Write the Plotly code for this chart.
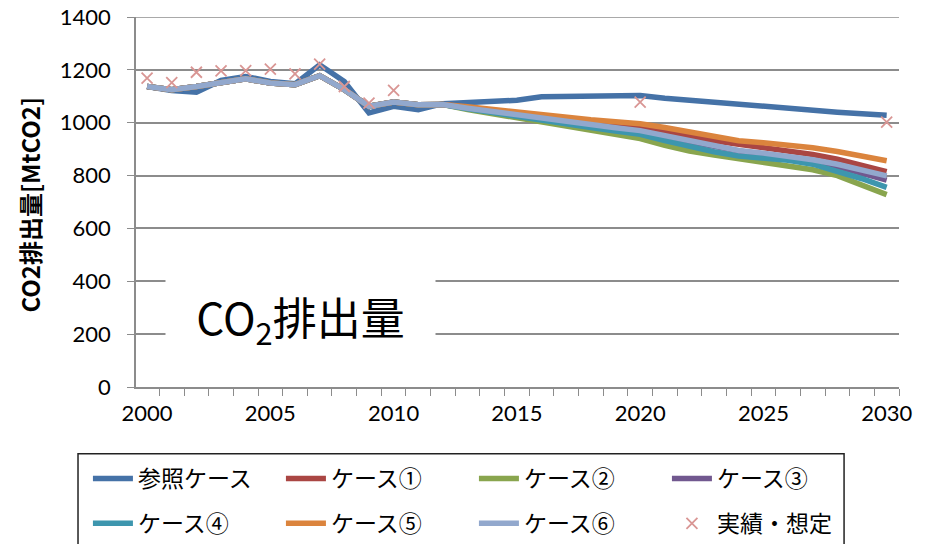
import plotly.graph_objects as go

years = list(range(2000, 2031))

# 参照ケース
ref = [1137, 1122, 1115, 1160, 1175, 1156, 1147, 1219, 1156, 1037, 1062, 1049, 1072,
       1075, 1080, 1085, 1098, 1098, 1098, 1100, 1103, 1093, 1085, 1076, 1068, 1060,
       1053, 1046, 1040, 1034, 1028]

# common history for cases 2000-2012
hist = [1137, 1125, 1137, 1150, 1166, 1150, 1144, 1178, 1125, 1062, 1078, 1068, 1069]

case1_fut = [1058, 1046, 1034, 1022, 1012, 1003, 994, 985, 966, 948, 932, 918, 907, 895, 880, 862, 840, 815]
case2_fut = [1050, 1034, 1018, 1002, 987, 972, 956, 940, 914, 893, 878, 864, 851, 837, 822, 800, 766, 728]
case3_fut = [1055, 1042, 1029, 1016, 1003, 991, 979, 967, 947, 928, 910, 893, 882, 871, 855, 834, 810, 783]
case4_fut = [1053, 1038, 1023, 1008, 995, 982, 969, 956, 932, 909, 890, 874, 866, 858, 843, 818, 788, 755]
case5_fut = [1060, 1050, 1040, 1028, 1019, 1011, 1004, 996, 982, 966, 948, 932, 924, 917, 905, 891, 874, 856]
case6_fut = [1055, 1042, 1029, 1016, 1004, 993, 981, 970, 950, 931, 912, 895, 885, 874, 860, 843, 822, 799]

actual_years = [2000, 2001, 2002, 2003, 2004, 2005, 2006, 2007, 2008, 2009, 2010, 2020, 2030]
actual_vals = [1169, 1152, 1191, 1196, 1197, 1203, 1185, 1222, 1137, 1074, 1122, 1078, 1002]

series_names = ["参照ケース", "ケース①", "ケース②", "ケース③", "ケース④", "ケース⑤", "ケース⑥"]
series_colors = ["#4572A7", "#AA4643", "#89A54E", "#71588F", "#3D96AE", "#DB843D", "#92A8CD"]
series_values = [ref,
                 hist + case1_fut, hist + case2_fut, hist + case3_fut,
                 hist + case4_fut, hist + case5_fut, hist + case6_fut]
series_legend = ["legend", "legend", "legend", "legend", "legend2", "legend2", "legend2"]

x_ticks = [2000, 2005, 2010, 2015, 2020, 2025, 2030]
y_ticks = [0, 200, 400, 600, 800, 1000, 1200, 1400]

FONT = "Lato, Noto Sans CJK JP, sans-serif"
JFONT = "Noto Sans CJK JP, sans-serif"
GRID = "#8C8C8C"

fig = go.Figure()
for name, color, vals, lg in zip(series_names, series_colors, series_values, series_legend):
    fig.add_trace(go.Scatter(x=years, y=vals, mode="lines", name=name, legend=lg,
                             line=dict(color=color, width=5.5)))
fig.add_trace(go.Scatter(x=actual_years, y=actual_vals, mode="markers", name="実績・想定",
                         legend="legend2",
                         marker=dict(symbol="x-thin", size=11, color="#D99694",
                                     line=dict(color="#D99694", width=1.8))))

leg_common = dict(orientation="h", xanchor="left", yanchor="top",
                  bgcolor="rgba(0,0,0,0)", borderwidth=0,
                  font=dict(family=JFONT, size=23, color="black"),
                  entrywidth=138, entrywidthmode="pixels", itemwidth=40)

fig.update_layout(
    width=933, height=544,
    margin=dict(l=128, r=42, t=9, b=164),
    plot_bgcolor="white", paper_bgcolor="white",
    font=dict(family=FONT, color="black", size=20),
    showlegend=True,
    legend=dict(x=-0.063, y=-0.186, **leg_common),
    legend2=dict(x=-0.063, y=-0.307, **leg_common),
    shapes=[
        dict(type="rect", xref="paper", yref="paper",
             x0=-0.076, x1=0.928, y0=-0.47, y1=-0.1806,
             line=dict(color="#222222", width=1.5), fillcolor="rgba(0,0,0,0)"),
        dict(type="line", xref="paper", yref="y", x0=0, x1=1,
             y0=y_ticks[-1], y1=y_ticks[-1], layer="below",
             line=dict(color=GRID, width=1.5)),
    ],
    annotations=[
        dict(text="CO2排出量[MtCO2]", xref="paper", yref="paper", x=-0.139, y=0.493,
             xanchor="center", yanchor="middle",
             textangle=-90, showarrow=False,
             font=dict(family=JFONT, size=24, color="black", weight="bold")),
        dict(text="CO<sub>2</sub>排出量", xref="paper", yref="paper", x=0.216, y=0.183,
             xanchor="center", yanchor="middle",
             showarrow=False, bgcolor="white", width=267, height=100,
             font=dict(family=JFONT, size=44, color="black")),
    ],
)

fig.update_xaxes(range=[1999.55, 2030.5], tickvals=x_ticks, ticktext=[str(v) for v in x_ticks],
                 ticks="", showgrid=False, showline=True, linecolor=GRID, linewidth=1.5,
                 zeroline=False, ticklabelstandoff=6, automargin=False,
                 tickfont=dict(family=FONT, size=22, color="black"),
                 minor=dict(tickmode="linear", tick0=1999.5, dtick=1, ticks="outside",
                            ticklen=7, tickcolor=GRID, tickwidth=1.2, showgrid=False))
fig.update_yaxes(range=[0, 1400], tickvals=y_ticks, ticks="outside", ticklen=7,
                 tickcolor=GRID, tickwidth=1.2, showgrid=True, gridcolor=GRID, gridwidth=1.5,
                 showline=True, linecolor=GRID, linewidth=1.5, zeroline=False,
                 ticklabelstandoff=12, automargin=False, ticklabeloverflow="allow",
                 tickfont=dict(family=FONT, size=22, color="black"))

fig.write_html("out.html")
